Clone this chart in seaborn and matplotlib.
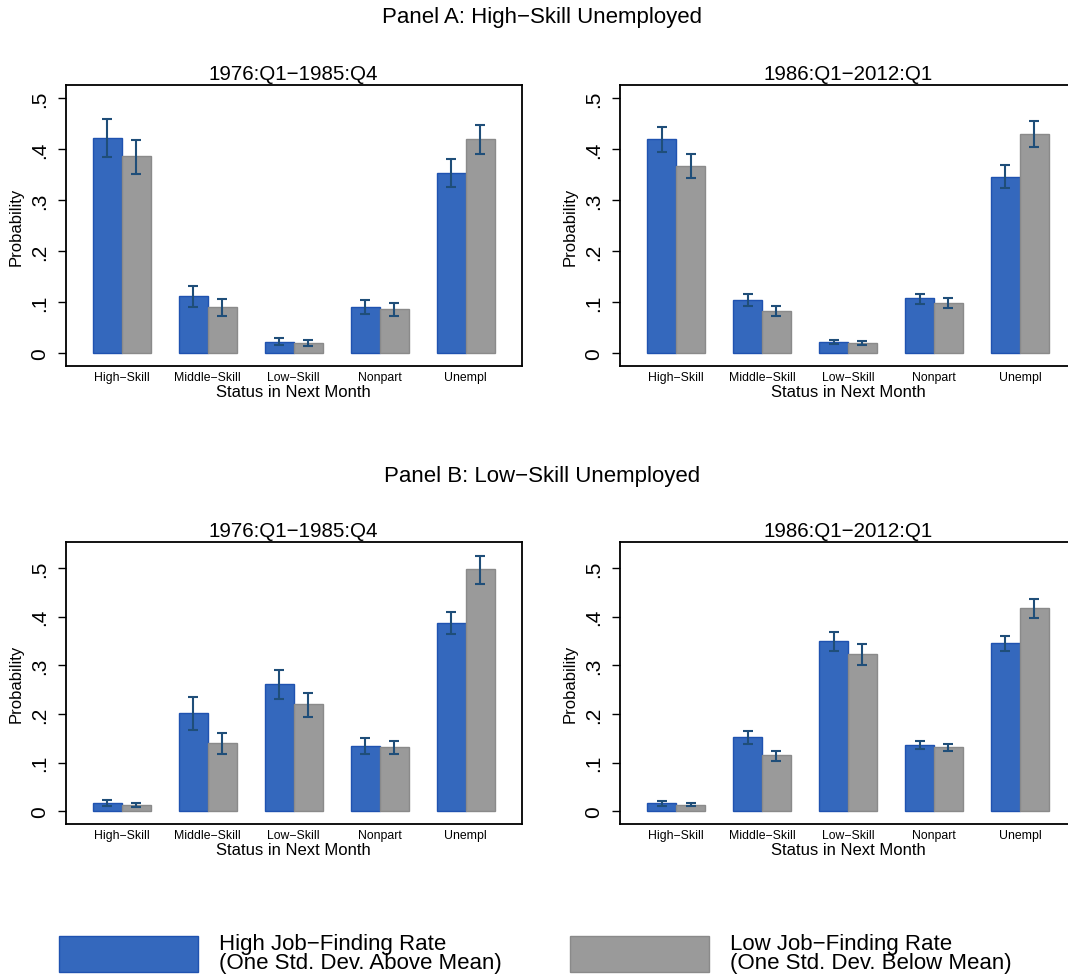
import numpy as np
import pandas as pd
import seaborn as sns
import matplotlib
matplotlib.use("Agg")
import matplotlib.pyplot as plt
from matplotlib.patches import Patch

statuses = ["High−Skill", "Middle−Skill", "Low−Skill", "Nonpart", "Unempl"]
rates = ["High", "Low"]
ytick_vals = [0, 0.1, 0.2, 0.3, 0.4, 0.5]
ytick_labels = ["0", ".1", ".2", ".3", ".4", ".5"]
periods = ["1976:Q1−1985:Q4", "1986:Q1−2012:Q1"]
panel_titles = ["Panel A: High−Skill Unemployed", "Panel B: Low−Skill Unemployed"]

# Panel A, 1976:Q1-1985:Q4
a1_high = [0.422, 0.112, 0.022, 0.091, 0.353]
a1_high_lo = [0.384, 0.090, 0.016, 0.076, 0.325]
a1_high_hi = [0.459, 0.132, 0.029, 0.105, 0.380]
a1_low = [0.386, 0.090, 0.020, 0.086, 0.420]
a1_low_lo = [0.352, 0.073, 0.014, 0.072, 0.391]
a1_low_hi = [0.418, 0.106, 0.025, 0.099, 0.448]

# Panel A, 1986:Q1-2012:Q1
a2_high = [0.420, 0.105, 0.022, 0.107, 0.346]
a2_high_lo = [0.395, 0.093, 0.017, 0.097, 0.324]
a2_high_hi = [0.444, 0.116, 0.025, 0.116, 0.369]
a2_low = [0.368, 0.082, 0.020, 0.098, 0.429]
a2_low_lo = [0.344, 0.073, 0.016, 0.089, 0.404]
a2_low_hi = [0.391, 0.092, 0.024, 0.107, 0.456]

# Panel B, 1976:Q1-1985:Q4
b1_high = [0.017, 0.202, 0.261, 0.134, 0.388]
b1_high_lo = [0.011, 0.167, 0.231, 0.118, 0.364]
b1_high_hi = [0.023, 0.236, 0.290, 0.150, 0.410]
b1_low = [0.014, 0.140, 0.220, 0.132, 0.497]
b1_low_lo = [0.009, 0.117, 0.194, 0.118, 0.467]
b1_low_hi = [0.018, 0.162, 0.244, 0.145, 0.525]

# Panel B, 1986:Q1-2012:Q1
b2_high = [0.017, 0.152, 0.350, 0.136, 0.346]
b2_high_lo = [0.012, 0.139, 0.329, 0.128, 0.330]
b2_high_hi = [0.021, 0.165, 0.369, 0.144, 0.361]
b2_low = [0.014, 0.115, 0.323, 0.132, 0.418]
b2_low_lo = [0.010, 0.104, 0.300, 0.123, 0.398]
b2_low_hi = [0.018, 0.125, 0.344, 0.139, 0.436]

BLUE = "#3468bd"
BLUE_EDGE = "#1f52b0"
GREY = "#9a9a9a"
GREY_EDGE = "#8a8a8a"
ERR = "#1f4e79"

sns.set_style("white")
plt.rcParams["font.family"] = ["Liberation Sans", "DejaVu Sans"]
plt.rcParams.update({"text.color": "black", "axes.labelcolor": "black",
                     "xtick.color": "black", "ytick.color": "black"})


def make_df(high, low):
    return pd.DataFrame({
        "Status": statuses * 2,
        "Rate": ["High"] * 5 + ["Low"] * 5,
        "Probability": list(high) + list(low),
    })


def draw_panel(ax, title, high, high_lo, high_hi, low, low_lo, low_hi, ylim):
    df = make_df(high, low)
    sns.barplot(data=df, x="Status", y="Probability", hue="Rate", order=statuses,
                hue_order=rates, palette=[BLUE, GREY], saturation=1, width=0.67,
                errorbar=None, legend=False, linewidth=1, ax=ax)
    series = [(high, high_lo, high_hi, BLUE_EDGE), (low, low_lo, low_hi, GREY_EDGE)]
    for cont, (vals, lo, hi, edge) in zip(ax.containers, series):
        xs = []
        for p in cont.patches:
            p.set_edgecolor(edge)
            xs.append(p.get_x() + p.get_width() / 2)
        vals, lo, hi = np.array(vals), np.array(lo), np.array(hi)
        ax.errorbar(xs, vals, yerr=[vals - lo, hi - vals], fmt="none", ecolor=ERR,
                    elinewidth=1.5, capsize=3.6, capthick=1.5, zorder=5)
    ax.set_xlim(-0.653, 4.653)
    ax.set_ylim(*ylim)
    ax.set_yticks(ytick_vals)
    ax.set_yticklabels(ytick_labels, rotation=90, va="center", fontsize=15)
    ax.tick_params(axis="y", length=5.8, width=1, direction="out", left=True, pad=6)
    ax.tick_params(axis="x", length=0, labelsize=8.8, pad=3.5)
    ax.set_xlabel("Status in Next Month", fontsize=12, labelpad=0.5)
    ax.set_ylabel("Probability", fontsize=12, labelpad=5)
    ax.set_title(title, fontsize=14.8, pad=4)
    for s in ax.spines.values():
        s.set_visible(True)
        s.set_color("black")
        s.set_linewidth(1.3)


W, H = 1068, 979
fig = plt.figure(figsize=(W / 100, H / 100), dpi=100)

ax1 = fig.add_axes([65.5 / W, 1 - 367 / H, 456.5 / W, 281 / H])
ax2 = fig.add_axes([620 / W, 1 - 367 / H, 456 / W, 281 / H])
ax3 = fig.add_axes([65.5 / W, 1 - 825 / H, 456.5 / W, 282 / H])
ax4 = fig.add_axes([620 / W, 1 - 825 / H, 456 / W, 282 / H])

top_lim = (-0.0255, 0.526)
bot_lim = (-0.026, 0.5535)
draw_panel(ax1, periods[0], a1_high, a1_high_lo, a1_high_hi, a1_low, a1_low_lo, a1_low_hi, top_lim)
draw_panel(ax2, periods[1], a2_high, a2_high_lo, a2_high_hi, a2_low, a2_low_lo, a2_low_hi, top_lim)
draw_panel(ax3, periods[0], b1_high, b1_high_lo, b1_high_hi, b1_low, b1_low_lo, b1_low_hi, bot_lim)
draw_panel(ax4, periods[1], b2_high, b2_high_lo, b2_high_hi, b2_low, b2_low_lo, b2_low_hi, bot_lim)

fig.text(542.5 / W, 1 - 18 / H, panel_titles[0], ha="center", va="center", fontsize=16)
fig.text(542.5 / W, 1 - 477 / H, panel_titles[1], ha="center", va="center", fontsize=16)

legend_items = [
    (BLUE, BLUE_EDGE, "High Job−Finding Rate\n(One Std. Dev. Above Mean)", 59),
    (GREY, GREY_EDGE, "Low Job−Finding Rate\n(One Std. Dev. Below Mean)", 570),
]
for face, edge, label, x0 in legend_items:
    leg = fig.legend(handles=[Patch(facecolor=face, edgecolor=edge, linewidth=1)], labels=[label],
                     loc="center left", bbox_to_anchor=(x0 / W, 1 - 954 / H), frameon=False,
                     fontsize=16, handlelength=6.26, handleheight=2.15, handletextpad=0.95,
                     borderpad=0, borderaxespad=0, labelspacing=0)
    for t in leg.get_texts():
        t.set_linespacing(0.85)

fig.savefig("out.png", dpi=100)
